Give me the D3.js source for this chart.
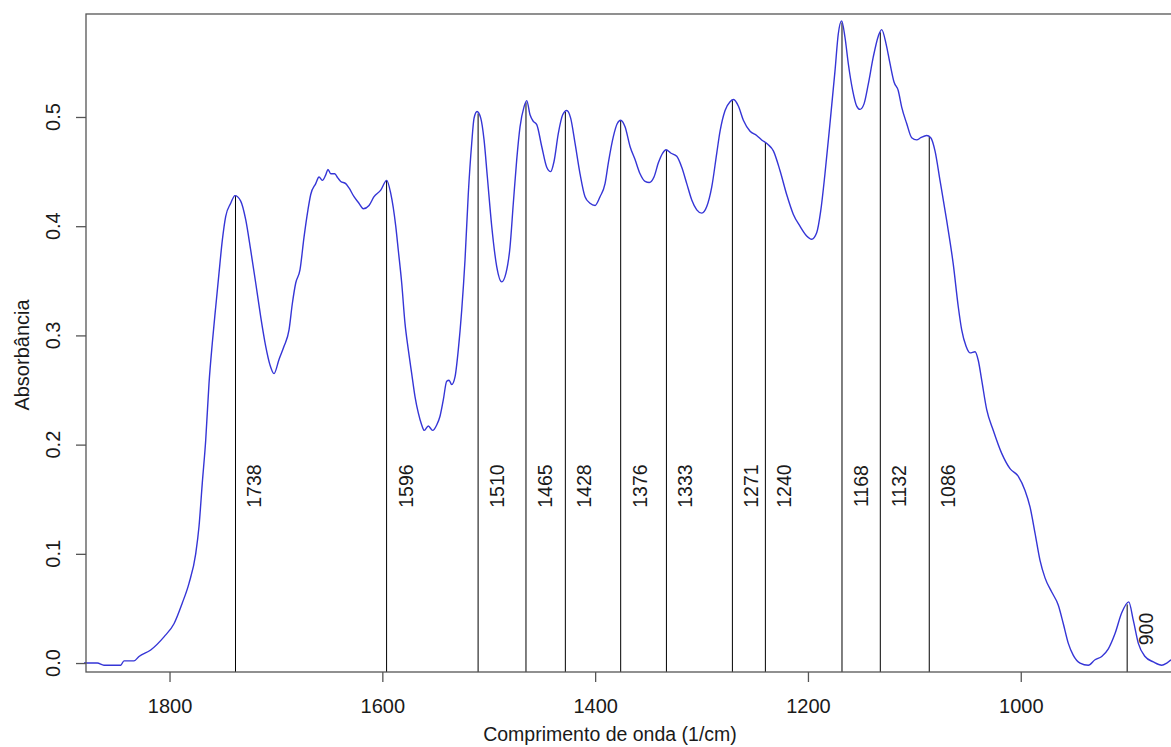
<!DOCTYPE html>
<html><head><meta charset="utf-8">
<script src="https://cdn.jsdelivr.net/npm/d3@7"></script>
<style>
html,body{margin:0;padding:0;background:#fff;overflow:hidden;}
text{font-family:"Liberation Sans",Arial,sans-serif;}
</style></head>
<body>
<svg id="chart" width="1171" height="747"></svg>
<script>
// Spectrum (wavenumber in 1/cm, absorbance)
const wavenumber = [1880.4,1867.9,1861.6,1845.9,1842.8,1833.4,1828.7,1817.7,1805.2,1795.8,1788.0,1781.7,1775.4,1772.3,1769.2,1766.0,1762.9,1759.8,1756.6,1753.5,1750.4,1747.2,1742.5,1738.5,1733.1,1728.4,1723.7,1719.0,1714.3,1709.6,1705.6,1701.8,1697.1,1692.4,1687.7,1684.6,1681.4,1677.4,1673.6,1669.9,1667.3,1662.6,1659.5,1656.4,1653.2,1651.1,1648.5,1644.8,1641.7,1639.1,1634.4,1631.3,1626.6,1622.0,1617.9,1612.5,1607.8,1601.5,1595.9,1592.1,1587.4,
1585.0,1581.8,1578.7,1575.6,1572.4,1569.3,1566.2,1563.0,1560.6,1556.8,1552.7,1548.9,1545.8,1542.7,1539.5,1537.3,1534.8,1531.7,1528.6,1525.4,1522.3,
1519.2,1516.0,1513.8,1511.0,1507.5,1504.4,1501.3,1497.2,1492.5,1487.8,1483.8,1480.0,1476.9,1473.7,1470.6,1466.9,1464.3,1461.2,1458.1,1454.9,1450.2,1445.5,1441.8,1438.7,1434.6,1430.5,1426.7,1423.0,1418.9,1414.2,1409.5,1404.8,1400.1,1395.4,1390.7,1387.6,1382.9,1379.2,1376.0,1371.9,1367.2,1362.5,1357.8,1353.1,1349.1,1344.7,1340.6,1336.5,1333.4,1329.0,1323.3,1318.6,1313.9,1309.2,1304.5,1299.8,1295.1,1290.4,1285.7,
1282.6,1277.9,1273.2,1269.8,1265.4,1260.7,1254.4,1248.2,1243.5,1237.8,1232.5,1226.3,1220.0,1213.8,1207.5,1201.2,1196.5,1191.8,1188.0,1184.0,1179.3,1174.6,1171.5,1168.3,1165.2,1162.1,1157.9,1154.2,1151.1,1147.3,1143.3,1138.6,1133.9,1130.7,1126.6,1122.9,1119.1,1115.1,1111.9,1107.2,1102.5,1097.8,1094.0,1088.4,1084.6,1080.6,1075.9,1069.6,1063.4,1058.7,
1055.5,1051.4,1047.7,1043.0,1039.9,1036.7,1032.0,1025.8,1017.9,1010.1,1002.3,996.0,991.3,986.6,981.9,977.2,970.9,964.7,960.0,955.3,950.6,944.3,936.5,930.2,923.9,917.7,911.4,905.1,898.5,894.2,889.5,883.2,875.4,867.5,862.8,858.8];
const absorbance = [0.000,0.000,-0.002,-0.002,0.002,0.002,0.006,0.012,0.024,0.036,0.055,0.073,0.100,0.125,0.165,0.204,0.256,0.293,0.326,0.357,0.387,0.409,0.421,0.428,0.423,0.406,0.378,0.348,0.317,0.290,0.273,0.265,0.278,0.290,0.305,0.329,0.348,0.360,0.390,0.415,0.429,0.439,0.445,0.442,0.447,0.452,0.448,0.448,0.444,0.441,0.439,0.435,0.427,0.421,0.416,0.419,0.427,0.433,0.442,0.430,0.400,
0.378,0.348,0.311,0.287,0.265,0.244,0.229,0.218,0.213,0.217,0.213,0.218,0.226,0.241,0.258,0.259,0.255,0.262,0.287,0.323,0.369,
0.430,0.476,0.499,0.505,0.499,0.479,0.445,0.400,0.363,0.349,0.357,0.381,0.421,0.461,0.491,0.509,0.515,0.502,0.496,0.493,0.473,0.454,0.450,0.459,0.485,0.502,0.506,0.499,0.476,0.448,0.427,0.421,0.419,0.427,0.439,0.458,0.482,0.494,0.497,0.491,0.473,0.461,0.448,0.441,0.440,0.445,0.458,0.467,0.470,0.467,0.464,0.454,0.439,0.424,0.415,0.412,0.418,0.436,0.467,
0.487,0.506,0.514,0.516,0.510,0.497,0.487,0.483,0.479,0.475,0.469,0.451,0.429,0.411,0.400,0.391,0.388,0.394,0.414,0.448,0.494,0.542,0.576,0.588,0.573,0.549,0.524,0.510,0.507,0.512,0.530,0.555,0.574,0.580,0.567,0.549,0.532,0.524,0.509,0.494,0.481,0.479,0.481,0.483,0.481,0.469,0.442,0.405,0.365,0.326,
0.305,0.290,0.284,0.285,0.277,0.259,0.232,0.213,0.192,0.178,0.171,0.158,0.143,0.119,0.094,0.078,0.065,0.053,0.036,0.018,0.007,0.000,-0.002,0.003,0.006,0.013,0.027,0.046,0.056,0.039,0.018,0.006,0.001,-0.002,0.000,0.003];

// Marked peaks
const peaks = [1738,1596,1510,1465,1428,1376,1333,1271,1240,1168,1132,1086,900];

// Axis ticks
const xTicks = [1800,1600,1400,1200,1000];
const yTicks = [0.0,0.1,0.2,0.3,0.4,0.5];

const xLabel = "Comprimento de onda (1/cm)";
const yLabel = "Absorbância";

(function(){
const svg = d3.select("#chart");
const pL = 86, pR = 1171, pT = 14, pB = 672;

const x = d3.scaleLinear().domain([1878.5, 858.8]).range([pL, pR]);
const y = d3.scaleLinear().domain([-0.0082, 0.5943]).range([pB, pT]);

const pts = wavenumber.map((w,i)=>({w, a: absorbance[i]}));
const asc = pts.slice().sort((p,q)=>p.w-q.w);
function interp(w){
  const i = d3.bisector(d=>d.w).left(asc, w);
  if(i<=0) return asc[0].a;
  if(i>=asc.length) return asc[asc.length-1].a;
  const p0 = asc[i-1], p1 = asc[i];
  return p0.a + (p1.a-p0.a)*(w-p0.w)/(p1.w-p0.w);
}

const fontSize = 20;
const textColor = "#1a1a1a";
const axisColor = "#555";

// Peak lines
svg.append("g").selectAll("line").data(peaks).join("line")
  .attr("x1", d=>x(d)).attr("x2", d=>x(d))
  .attr("y1", d=>y(interp(d))).attr("y2", pB)
  .attr("stroke", "#000").attr("stroke-width", 1);

// Spectrum
svg.append("path").datum(pts)
  .attr("fill","none").attr("stroke","#3535d6").attr("stroke-width",1.4)
  .attr("stroke-linejoin","round")
  .attr("d", d3.line().x(d=>x(d.w)).y(d=>y(d.a)).curve(d3.curveMonotoneX));

// Peak labels
svg.append("g").selectAll("text").data(peaks).join("text")
  .attr("transform", d=>{
    const la = Math.min(0.162, interp(d)*0.58);
    return `translate(${x(d)+19},${y(la)}) rotate(-90)`;
  })
  .attr("text-anchor","middle").attr("dominant-baseline","central")
  .attr("font-size", 19.5).attr("fill", textColor)
  .text(d=>d);

// Box
svg.append("rect").attr("x", pL).attr("y", pT)
  .attr("width", pR-pL+5).attr("height", pB-pT)
  .attr("fill","none").attr("stroke", axisColor).attr("stroke-width",1.3);

// X axis
const gx = svg.append("g").attr("transform", `translate(0,${pB})`)
  .call(d3.axisBottom(x).tickValues(xTicks).tickSize(10).tickFormat(d3.format("d")));
gx.select(".domain").remove();
gx.selectAll("line").attr("stroke", axisColor).attr("stroke-width",1.3);
gx.selectAll("text").attr("font-size", fontSize).attr("fill", textColor)
  .attr("font-family", "Liberation Sans, Arial, sans-serif")
  .attr("y", 41).attr("dy", null);

// Y axis
const gy = svg.append("g").attr("transform", `translate(${pL},0)`)
  .call(d3.axisLeft(y).tickValues(yTicks).tickSize(10).tickFormat(d3.format(".1f")));
gy.select(".domain").remove();
gy.selectAll("line").attr("stroke", axisColor).attr("stroke-width",1.3);
gy.selectAll("text").remove();
svg.append("g").selectAll("text").data(yTicks).join("text")
  .attr("transform", d=>`translate(53,${y(d)}) rotate(-90)`)
  .attr("text-anchor","middle").attr("dominant-baseline","central")
  .attr("font-size", fontSize).attr("fill", textColor)
  .text(d=>d3.format(".1f")(d));

// Axis titles
svg.append("text").attr("x", 610).attr("y", 741)
  .attr("text-anchor","middle").attr("font-size", 19.5).attr("fill", textColor)
  .text(xLabel);
svg.append("text").attr("transform", `translate(22,355) rotate(-90)`)
  .attr("text-anchor","middle").attr("dominant-baseline","central")
  .attr("font-size", fontSize).attr("fill", textColor)
  .text(yLabel);
})();
</script>
</body></html>
